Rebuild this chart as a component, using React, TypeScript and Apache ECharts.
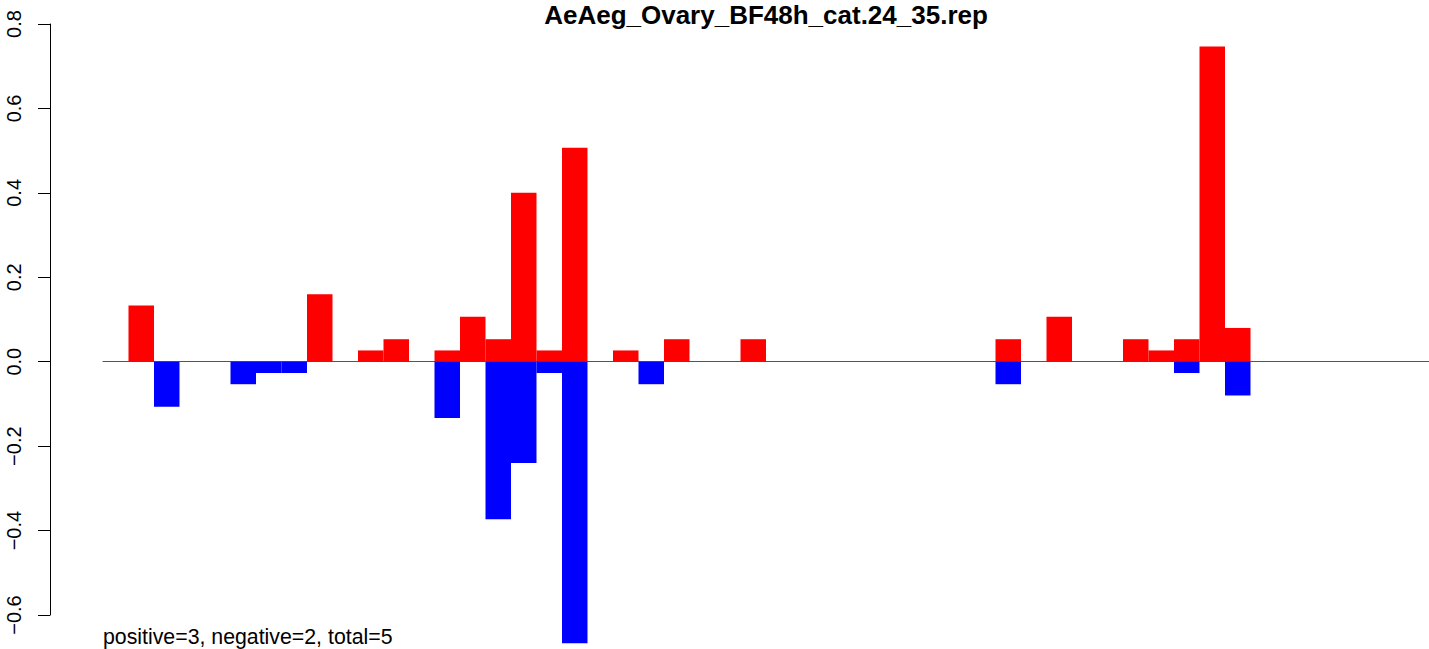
import React, { useEffect, useRef } from "react";
import * as echarts from "echarts";

const TITLE = "AeAeg_Ovary_BF48h_cat.24_35.rep";
const FOOTNOTE = "positive=3, negative=2, total=5";

// one slot per position (slot 0 .. 51); null = no bar
const slots: string[] = Array.from({ length: 52 }, (_, i) => String(i));

const positive: (number | null)[] = [
  null, 0.1333, null, null, null, null, null, null, 0.16, null,
  0.0267, 0.0533, null, 0.0267, 0.1067, 0.0533, 0.4, 0.0267, 0.5067, null,
  0.0267, null, 0.0533, null, null, 0.0533, null, null, null, null,
  null, null, null, null, null, 0.0533, null, 0.1067, null, null,
  0.0533, 0.0267, 0.0533, 0.7467, 0.08, null, null, null, null, null,
  null, null,
];

const negative: (number | null)[] = [
  null, null, -0.1067, null, null, -0.0533, -0.0267, -0.0267, null, null,
  null, null, null, -0.1333, null, -0.3733, -0.24, -0.0267, -0.6667, null,
  null, -0.0533, null, null, null, null, null, null, null, null,
  null, null, null, null, null, -0.0533, null, null, null, null,
  null, null, -0.0267, null, -0.08, null, null, null, null, null,
  null, null,
];

const yTicks = { min: -0.6, max: 0.8, interval: 0.2 };

const FONT = "'Liberation Sans', Arial, Helvetica, sans-serif";

export default function App() {
  const ref = useRef<HTMLDivElement>(null);
  useEffect(() => {
    document.body.style.margin = "0";
    const chart = echarts.init(ref.current!, null, { renderer: "svg" });
    chart.setOption({
      animation: false,
      backgroundColor: "#ffffff",
      grid: { left: 103, top: 24, width: 1331, height: 591, containLabel: false },
      xAxis: {
        type: "category",
        data: slots,
        axisLine: { show: true, onZero: true, lineStyle: { color: "#555555", width: 1 } },
        axisTick: { show: false },
        axisLabel: { show: false },
        splitLine: { show: false },
      },
      yAxis: {
        type: "value",
        min: yTicks.min,
        max: yTicks.max,
        interval: yTicks.interval,
        offset: 53,
        axisLine: { show: true, lineStyle: { color: "#000000", width: 1 } },
        axisTick: { show: true, length: 12, lineStyle: { color: "#000000", width: 1 } },
        splitLine: { show: false },
        axisLabel: {
          rotate: 90,
          margin: 26,
          fontSize: 20,
          fontFamily: FONT,
          color: "#000000",
          formatter: (v: number) =>
            (v < -1e-9 ? "\u2212" : "") + Math.abs(v).toFixed(1),
        },
      },
      series: [
        {
          name: "positive",
          type: "bar",
          data: positive,
          barGap: "-100%",
          barCategoryGap: "0%",
          clip: false,
          itemStyle: { color: "#ff0000" },
        },
        {
          name: "negative",
          type: "bar",
          data: negative,
          barGap: "-100%",
          barCategoryGap: "0%",
          clip: false,
          itemStyle: { color: "#0000ff" },
        },
      ],
      graphic: [
        {
          type: "text",
          x: 766,
          y: 15,
          style: {
            text: TITLE,
            fontSize: 26,
            fontWeight: "bold",
            fontFamily: FONT,
            fill: "#000000",
            textAlign: "center",
            textVerticalAlign: "middle",
          },
        },
        {
          type: "text",
          x: 103,
          y: 637,
          style: {
            text: FOOTNOTE,
            fontSize: 21.3,
            fontFamily: FONT,
            fill: "#000000",
            textAlign: "left",
            textVerticalAlign: "middle",
          },
        },
      ],
    });
    return () => chart.dispose();
  }, []);
  return (
    <div
      ref={ref}
      style={{ position: "absolute", left: 0, top: 0, width: "1429px", height: "649px" }}
    />
  );
}
